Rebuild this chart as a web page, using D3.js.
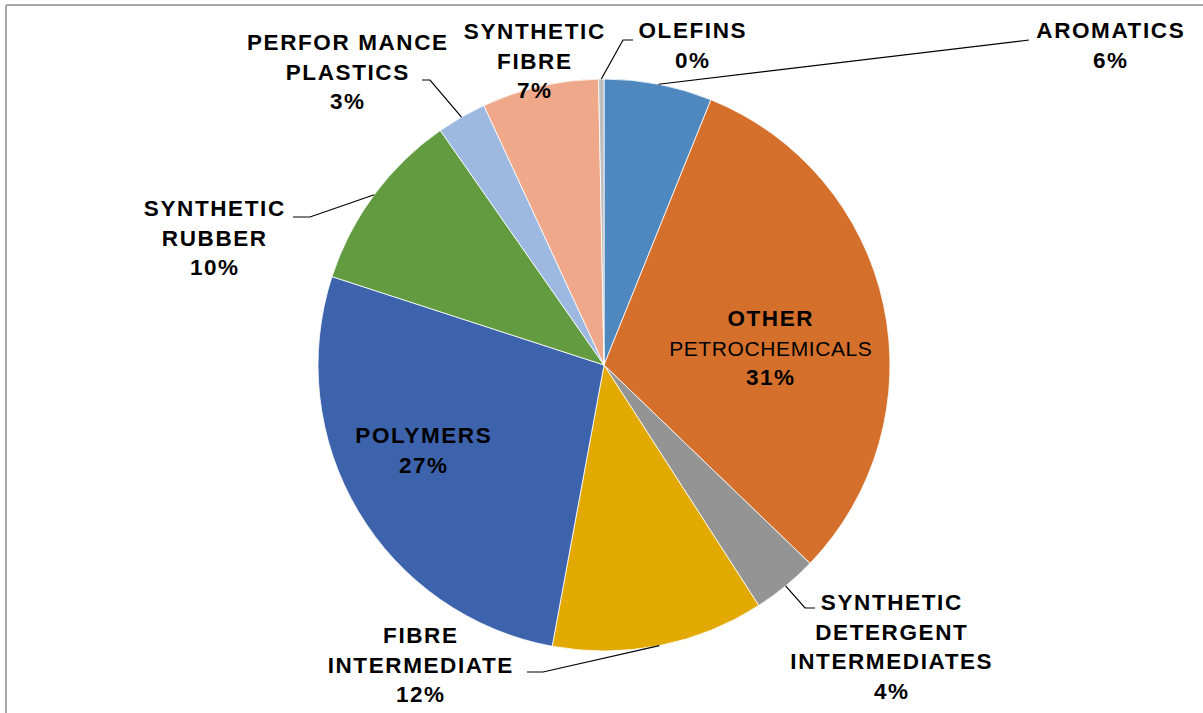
<!DOCTYPE html>
<html>
<head>
<meta charset="utf-8">
<script src="https://cdnjs.cloudflare.com/ajax/libs/d3/7.8.5/d3.min.js"></script>
<style>
  body { margin: 0; background: #fff; }
  svg { display: block; }
  .lbl { font-family: "Liberation Sans", Arial, sans-serif; font-size: 22.5px; font-weight: bold; fill: #000; letter-spacing: 1.6px; }
  .lbl .thin { font-weight: normal; font-size: 21px; letter-spacing: 0.6px; }
  .leader { fill: none; stroke: #000; stroke-width: 1.2; }
</style>
</head>
<body>
<svg id="chart"></svg>
<script>
// slices, clockwise from 12 o'clock
var categories = ["AROMATICS", "OTHER PETROCHEMICALS", "SYNTHETIC DETERGENT INTERMEDIATES",
  "FIBRE INTERMEDIATE", "POLYMERS", "SYNTHETIC RUBBER", "PERFORMANCE PLASTICS",
  "SYNTHETIC FIBRE", "OLEFINS"];
var shares = [6.1, 31.1, 3.7, 12.0, 27.1, 10.3, 2.8, 6.6, 0.3];
var pctLabels = ["6%", "31%", "4%", "12%", "27%", "10%", "3%", "7%", "0%"];
var nameLines = [
  ["AROMATICS"],
  ["OTHER", "PETROCHEMICALS"],
  ["SYNTHETIC", "DETERGENT", "INTERMEDIATES"],
  ["FIBRE", "INTERMEDIATE"],
  ["POLYMERS"],
  ["SYNTHETIC", "RUBBER"],
  ["PERFOR MANCE", "PLASTICS"],
  ["SYNTHETIC", "FIBRE"],
  ["OLEFINS"]
];
var colors = ["#4f88bf", "#d4702c", "#949494", "#e2a900", "#3e63ad",
  "#629b40", "#9db9e1", "#efa98a", "#bdbdbd"];

var screen = {width: 1203, height: 713};
var center = {x: 604, y: 365};
var radius = 286;

// where each label block sits (center x, first line center y), and its leader elbow/end
var labelLayout = [
  {x: 1110, y: 30, elbow: null, end: [1029, 40]},
  {x: 770, y: 318, elbow: null, end: null},
  {x: 891, y: 602, elbow: [805, 608], end: [815, 608]},
  {x: 420, y: 635, elbow: [543, 672], end: [527, 672]},
  {x: 423, y: 435, elbow: null, end: null},
  {x: 214, y: 208, elbow: [310, 217], end: [293, 217]},
  {x: 347, y: 42, elbow: [430, 80], end: [422, 80]},
  {x: 534, y: 31, elbow: null, end: null},
  {x: 692, y: 30, elbow: [623, 40], end: [633, 40]}
];
var lineStep = 29.5;

var svg = d3.select("#chart")
  .attr("width", screen.width)
  .attr("height", screen.height);

// frame
svg.append("line")
  .attr("x1", 6).attr("y1", 5).attr("x2", screen.width).attr("y2", 5)
  .attr("stroke", "#a8a8a8").attr("stroke-width", 2);
svg.append("line")
  .attr("x1", 6).attr("y1", 5).attr("x2", 6).attr("y2", screen.height)
  .attr("stroke", "#a8a8a8").attr("stroke-width", 2);

var slices = categories.map(function(c, i) {
  return {name: c, value: shares[i], idx: i};
});

var pie = d3.pie()
  .value(function(d) { return d.value; })
  .sort(null);

var arc = d3.arc().innerRadius(0).outerRadius(radius);
var edgeArc = d3.arc().innerRadius(radius).outerRadius(radius);

var target = svg.append("g")
  .attr("transform", "translate(" + center.x + "," + center.y + ")");

var arcs = pie(slices);

target.selectAll("path.slice")
  .data(arcs)
  .enter()
  .append("path")
  .attr("class", "slice")
  .attr("d", arc)
  .attr("fill", function(d) { return colors[d.data.idx]; })
  .attr("stroke", "#fff")
  .attr("stroke-width", 0.8);

// leader lines
arcs.forEach(function(d) {
  var lay = labelLayout[d.data.idx];
  if (!lay.end) return;
  var p = edgeArc.centroid(d);
  var pts = [[p[0] + center.x, p[1] + center.y]];
  if (lay.elbow) pts.push(lay.elbow);
  pts.push(lay.end);
  svg.append("path")
    .attr("class", "leader")
    .attr("d", d3.line()(pts));
});

// labels
var labels = svg.append("g");
slices.forEach(function(s) {
  var lay = labelLayout[s.idx];
  var lines = nameLines[s.idx].concat([pctLabels[s.idx]]);
  var t = labels.append("text")
    .attr("class", "lbl")
    .attr("text-anchor", "middle");
  lines.forEach(function(txt, k) {
    var ts = t.append("tspan")
      .attr("x", lay.x + 0.8)
      .attr("y", lay.y + k * lineStep + 8)
      .text(txt);
    if (txt === "PETROCHEMICALS") ts.attr("class", "thin");
  });
});
</script>
</body>
</html>
